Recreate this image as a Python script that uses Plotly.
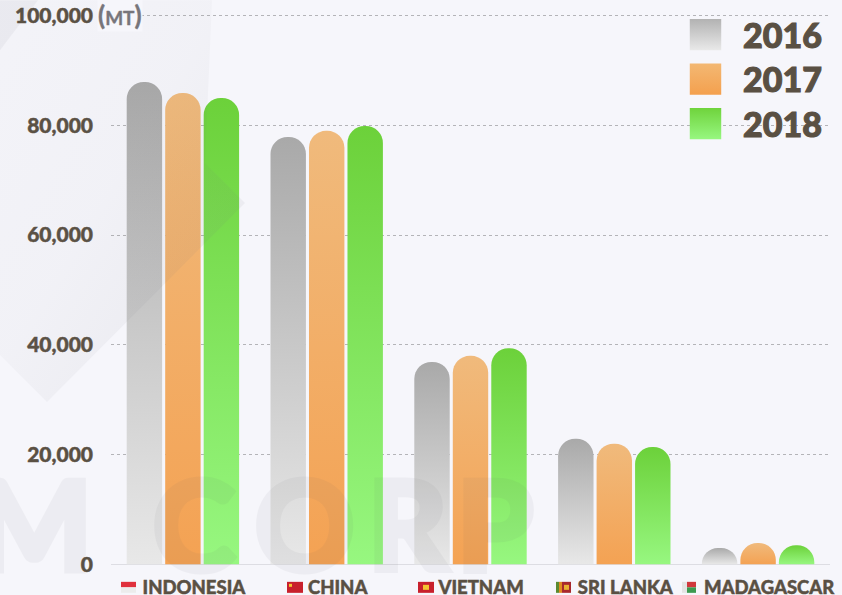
import plotly.graph_objects as go

countries = ["INDONESIA", "CHINA", "VIETNAM", "SRI LANKA", "MADAGASCAR"]
values_2016 = [87900, 77900, 36900, 22900, 3000]
values_2017 = [85900, 79000, 38000, 22000, 3900]
values_2018 = [85000, 79900, 39400, 21400, 3500]
years = ["2016", "2017", "2018"]
y_ticks = [0, 20000, 40000, 60000, 80000, 100000]
y_tick_labels = ["0", "20,000", "40,000", "60,000", "80,000", "100,000"]

W, H = 842, 595
# the value axis runs slightly past 0 and 100,000 so plotly keeps both end gridlines
L, R, T, B = 111, 12, 13.85, 28.85
Y_MIN, Y_MAX = -300, 100300
TEXT = "#5A5043"
BG = "#F6F6FB"
FONT = "Lato"
PAD = "\u00a0" * 5


def px(x):
    return (x - L) / (W - L - R)


def py(y):
    return (H - B - y) / (H - T - B)


def poly(points):
    return "M" + "L".join(f"{px(x)},{py(y)}" for x, y in points) + "Z"


fig = go.Figure()
for name, vals, col in zip(years, [values_2016, values_2017, values_2018],
                           ["#C4C4C4", "#F2AE68", "#80E45C"]):
    fig.add_bar(name=name, x=countries, y=vals, marker=dict(color=col, cornerradius=18, line_width=0))

# flags drawn as small rectangles beneath the tick labels (x0, x1)
flag_spans = [(121, 136), (287, 303), (418, 434), (556, 571), (682, 696)]
shapes = []


def rect(x0, x1, y0, y1, color):
    shapes.append(dict(type="rect", xref="paper", yref="paper", x0=px(x0), x1=px(x1), y0=py(y1), y1=py(y0),
                       fillcolor=color, line_width=0, layer="above"))


# background diamond watermark (gradient-filled in the page script)
shapes.append(dict(type="path", xref="paper", yref="paper", layer="above", line_width=0,
                   fillcolor="rgba(120,120,130,0.05)",
                   path=poly([(0, 355), (47, 402), (245, 203), (205, 163), (212, 0), (0, 0)])))
shapes.append(dict(type="path", xref="paper", yref="paper", layer="below", line_width=0,
                   fillcolor="rgba(120,120,130,0.07)",
                   path=poly([(0, 50), (38, 0), (0, 0)])))

F_TOP, F_BOT = 582, 593
(a, b) = flag_spans[0]
rect(a, b, F_TOP, (F_TOP + F_BOT) / 2, "#E0303C")
rect(a, b, (F_TOP + F_BOT) / 2, F_BOT, "#ECECEC")
(a, b) = flag_spans[1]
rect(a, b, F_TOP, F_BOT, "#C8202C")
rect(a + 2, a + 5, F_TOP + 2, F_TOP + 5, "#F4C430")
(a, b) = flag_spans[2]
rect(a, b, F_TOP, F_BOT, "#C8202C")
rect(a + 5, a + 11, F_TOP + 3, F_TOP + 8, "#F4C430")
(a, b) = flag_spans[3]
rect(a, a + 3, F_TOP, F_BOT, "#5C8A30")
rect(a + 3, a + 6, F_TOP, F_BOT, "#E08A20")
rect(a + 6, b, F_TOP, F_BOT, "#A8282C")
rect(a + 8, b - 2, F_TOP + 3, F_BOT - 3, "#E8B030")
(a, b) = flag_spans[4]
rect(a, a + 5, F_TOP, F_BOT, "#E4E4E4")
rect(a + 5, b, F_TOP, (F_TOP + F_BOT) / 2, "#D0383C")
rect(a + 5, b, (F_TOP + F_BOT) / 2, F_BOT, "#3C9A50")

annotations = [
    dict(xref="paper", yref="paper", x=px(97), y=py(15), xanchor="left", yanchor="middle", showarrow=False,
         bgcolor=BG, borderpad=0,
         text="<span style='font-size:26px'>(</span>MT<span style='font-size:26px'>)</span>",
         font=dict(family=FONT, size=19, color="#77757A", weight=700)),
]
# large "M CORP" watermark: (letter, right edge)
for letter, right in [("M", 94), ("C", 236), ("O", 356), ("R", 450), ("P", 535)]:
    annotations.append(dict(xref="paper", yref="paper", x=px(right), y=py(523), xanchor="right", yanchor="middle",
                            showarrow=False, text=letter,
                            font=dict(family=FONT, size=123, color="rgba(90,90,100,0.06)", weight=700)))

fig.update_layout(
    width=W, height=H, autosize=False,
    paper_bgcolor=BG, plot_bgcolor="rgba(0,0,0,0)",
    margin=dict(l=L, r=R, t=T, b=B),
    barmode="group", bargap=0.197, bargroupgap=0.08,
    font=dict(family=FONT, color=TEXT),
    shapes=shapes, annotations=annotations,
    legend=dict(x=px(680), y=1, xanchor="left", yanchor="top", bgcolor="rgba(0,0,0,0)",
                font=dict(family=FONT, size=34, color=TEXT, weight=900), itemclick=False, itemdoubleclick=False),
    xaxis=dict(tickmode="array", tickvals=countries, ticktext=[PAD + c for c in countries],
               tickfont=dict(family=FONT, size=18.5, color=TEXT, weight=900), ticks="", showline=False,
               tickangle=0, automargin=False, ticklabelstandoff=8, fixedrange=True),
    yaxis=dict(range=[Y_MIN, Y_MAX], tickmode="array", tickvals=y_ticks, ticktext=y_tick_labels, automargin=False,
               tickfont=dict(family=FONT, size=21, color=TEXT, weight=900), ticks="", ticklabelstandoff=17,
               showline=False, griddash="dot", gridcolor="#B4B4B8", gridwidth=1,
               zeroline=True, zerolinecolor="#DDDDE3", zerolinewidth=1, fixedrange=True),
)

post = """
document.documentElement.style.background = '#F6F6FB';
document.body.style.margin = '0';
document.body.style.overflow = 'hidden';
var gd = document.getElementById('{plot_id}');
var NS = 'http://www.w3.org/2000/svg';
var svg = gd.querySelector('svg.main-svg');
var defs = document.createElementNS(NS, 'defs');
svg.insertBefore(defs, svg.firstChild);
function grad(id, x1, y1, x2, y2, stops) {
  var g = document.createElementNS(NS, 'linearGradient');
  g.setAttribute('id', id);
  g.setAttribute('x1', x1); g.setAttribute('y1', y1); g.setAttribute('x2', x2); g.setAttribute('y2', y2);
  stops.forEach(function (s) {
    var st = document.createElementNS(NS, 'stop');
    st.setAttribute('offset', s[0]); st.setAttribute('stop-color', s[1]);
    if (s[2] !== undefined) st.setAttribute('stop-opacity', s[2]);
    g.appendChild(st);
  });
  defs.appendChild(g);
}
var cols = [['#A9A9A9', '#E8E8E8'], ['#F0BA7C', '#F4A253'], ['#6CD13A', '#97F780']];
var lcols = [['#B2B2B2', '#E9E9E9'], ['#F3B873', '#F4A04E'], ['#6FD33C', '#97F780']];
cols.forEach(function (c, i) {
  grad('barg' + i, 0, 0, 0, 1, [[0, c[0]], [1, c[1]]]);
  grad('legg' + i, 0, 0, 0, 1, [[0, lcols[i][0]], [1, lcols[i][1]]]);
});
gd.querySelectorAll('.barlayer .trace.bars').forEach(function (t, i) {
  t.querySelectorAll('.point path').forEach(function (p) { p.style.fill = 'url(#barg' + i + ')'; });
});
var leg = gd.querySelector('.legend');
var sb = leg.querySelector('.scrollbox');
sb.removeAttribute('clip-path');
var lx = /translate\\(([^,]+),\\s*([^)]+)\\)/.exec(leg.getAttribute('transform'));
var LEFT = parseFloat(lx[1]);
leg.setAttribute('transform', 'translate(' + LEFT + ',6)');
gd.querySelectorAll('.legend .traces').forEach(function (t, i) {
  var p = t.querySelector('.legendpoints path');
  p.setAttribute('d', 'M6,6H-6V-6H6Z');
  p.setAttribute('transform', 'translate(' + (705.5 - LEFT) + ',0) scale(2.62)');
  p.style.fill = 'url(#legg' + i + ')';
  var m = /translate\\(([^,]+),\\s*([^)]+)\\)/.exec(t.getAttribute('transform'));
  if (m) t.setAttribute('transform', 'translate(' + m[1] + ',' + (parseFloat(m[2]) - i * 2.7) + ')');
  var tx = t.querySelector('text');
  tx.setAttribute('x', 743 - LEFT - parseFloat(m ? m[1] : 0));
  tx.style.stroke = '#5A5043'; tx.style.strokeWidth = '1.1px';
});
gd.querySelectorAll('.xtick text, .ytick text').forEach(function (tx) {
  tx.style.stroke = '#5A5043'; tx.style.strokeWidth = '0.45px';
});
grad('diam', 1, 1, 0, 0, [[0, '#70707A', 0.11], [0.55, '#70707A', 0.035], [1, '#70707A', 0.02]]);
var d = gd.querySelector('.layer-above .shapelayer path');
if (d) { d.style.fill = 'url(#diam)'; d.style.fillOpacity = 1; }
gd.querySelectorAll('.annotation').forEach(function (a) {
  var idx = parseInt(a.getAttribute('data-index'), 10);
  var t = a.querySelector('text');
  if (idx === 0) { t.style.stroke = '#77757A'; t.style.strokeWidth = '0.4px'; return; }
  t.style.fill = 'rgb(90,90,100)'; t.style.fillOpacity = 1;
  t.style.stroke = 'rgb(90,90,100)'; t.style.strokeWidth = '7px';
  t.style.strokeLinejoin = 'miter';
  t.style.opacity = 0.055;
});
"""

fig.write_html("out.html", post_script=post, config=dict(displayModeBar=False))
